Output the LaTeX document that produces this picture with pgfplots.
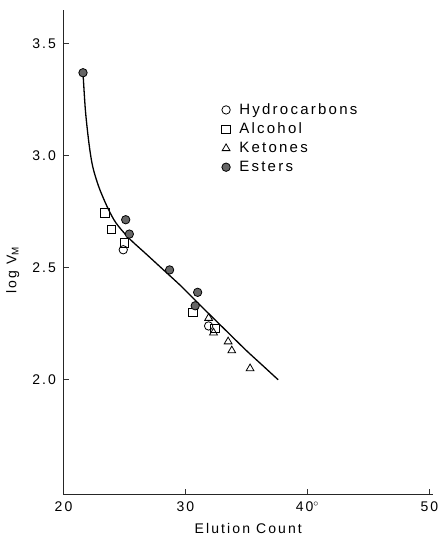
\documentclass[border=0pt]{standalone}
\usepackage{fontspec}
\setmainfont[LetterSpace=15]{Liberation Sans}
\usepackage{pgfplots}
\pgfplotsset{compat=1.18}
\begin{document}
\begin{tikzpicture}[x=1pt,y=1pt]
\path (-63.5,-47) rectangle (382.5,494);
\begin{axis}[
  at={(0,0)}, anchor=south west,
  scale only axis, width=369.5pt, height=484pt,
  xmin=20, xmax=50.3, ymin=1.49, ymax=3.65,
  axis lines*=left,
  axis line style={line width=0.9pt, black!85},
  xtick={20,30,40,50}, xticklabels={20,30,40$^{\circ}$,50},
  ytick={2,2.5,3,3.5},
  yticklabel style={/pgf/number format/fixed, /pgf/number format/fixed zerofill, /pgf/number format/precision=1, xshift=-4pt},
  xticklabel style={yshift=-4pt},
  /pgf/number format/assume math mode=true,
  tick align=inside, major tick length=5pt,
  tick style={black!80, line width=0.6pt},
  tick label style={font=\fontsize{14}{16}\selectfont},
  xlabel={Elution Count}, ylabel={log V\textsubscript{M}},
  label style={font=\fontsize{14}{16}\selectfont},
  xlabel style={yshift=-5pt},
  ylabel style={at={(rel axis cs:-0.137,0.463)}, anchor=center},
  legend style={draw=none, fill=none, at={(0.42,0.815)}, anchor=north west, font=\fontsize{15}{17}\selectfont, row sep=3pt, column sep=7pt},
  legend cell align=left,
  clip=false,
]
\addplot[black, line width=1.3pt, smooth, forget plot] coordinates {
 (21.6,3.37) (21.8,3.2) (22.1,3.05) (22.4,2.95) (22.9,2.86) (23.6,2.77) (24.3,2.70) (25.4,2.63) (26.8,2.56) (28.2,2.49) (29.6,2.42) (30.8,2.355) (32.0,2.29) (33.5,2.21) (35.0,2.13) (36.3,2.065) (37.6,2.00)
};
\addplot[only marks, mark=o, mark size=4.2pt, mark options={black, line width=0.8pt}] coordinates {
 (24.9,2.58) (31.9,2.24)
};
\addlegendentry{Hydrocarbons}
\addplot[only marks, mark=square, mark size=4.2pt, mark options={black, line width=0.8pt}] coordinates {
 (23.4,2.745) (23.95,2.67) (25.0,2.61) (30.6,2.30) (32.4,2.23)
};
\addlegendentry{Alcohol}
\addplot[only marks, mark=triangle, mark size=4.5pt, mark options={black, line width=0.8pt}] coordinates {
 (31.9,2.275) (32.3,2.21) (33.5,2.17) (33.8,2.13) (35.3,2.05)
};
\addlegendentry{Ketones}
\addplot[only marks, mark=*, mark size=4.2pt, mark options={draw=black, fill=black!60, line width=0.8pt}] coordinates {
 (21.6,3.37) (25.1,2.714) (25.4,2.65) (28.7,2.49) (31.0,2.39) (30.8,2.33)
};
\addlegendentry{Esters}
\end{axis}
\end{tikzpicture}
\end{document}
